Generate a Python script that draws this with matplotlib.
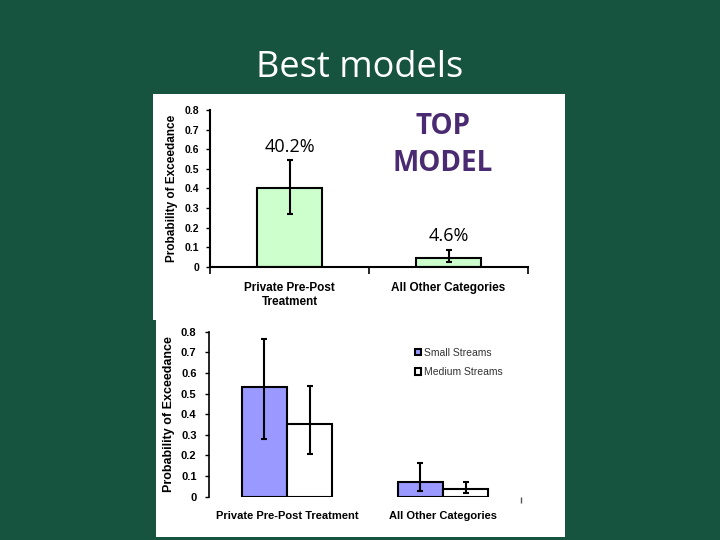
import matplotlib.pyplot as plt
from matplotlib.patches import Rectangle, Patch

# data
categories_top = ['Private Pre-Post\nTreatment', 'All Other Categories']
top_vals = [0.402, 0.046]
top_lo = [0.269, 0.022]
top_hi = [0.545, 0.085]
top_labels = ['40.2%', '4.6%']

categories_bot = ['Private Pre-Post Treatment', 'All Other Categories']
small_vals = [0.534, 0.073]
small_lo = [0.279, 0.029]
small_hi = [0.765, 0.165]
medium_vals = [0.354, 0.039]
medium_lo = [0.207, 0.019]
medium_hi = [0.539, 0.073]

yticks = [0, 0.1, 0.2, 0.3, 0.4, 0.5, 0.6, 0.7, 0.8]
ytick_labels = ['0', '0.1', '0.2', '0.3', '0.4', '0.5', '0.6', '0.7', '0.8']

BG = '#17543f'
W, H = 720, 540

fig = plt.figure(figsize=(7.2, 5.4), dpi=100, facecolor=BG)


def px(x0, y0, x1, y1):
    # pixel box (top-left origin) -> figure fraction rect
    return [x0 / W, 1 - y1 / H, (x1 - x0) / W, (y1 - y0) / H]


# white panels
fig.patches.append(Rectangle((153 / W, 1 - 320 / H), (565 - 153) / W, (320 - 94) / H,
                             transform=fig.transFigure, facecolor='white', edgecolor='none', zorder=-5))
fig.patches.append(Rectangle((156 / W, 1 - 537 / H), (565 - 156) / W, (537 - 320) / H,
                             transform=fig.transFigure, facecolor='white', edgecolor='none', zorder=-5))

fig.text(0.5, 1 - 68 / H, 'Best models', ha='center', va='center', color='white',
         fontsize=26, family='Open Sans')

tick_font = dict(family='Liberation Sans', weight='bold', size=7.5)

# ---------- top chart ----------
ax1 = fig.add_axes(px(210, 110, 528, 266.7))
ax1.set_facecolor('none')
x = [0, 1]
err_top = [[v - l for v, l in zip(top_vals, top_lo)], [h - v for v, h in zip(top_vals, top_hi)]]
ax1.bar(x, top_vals, width=0.415, color='#ccffcc', edgecolor='black', linewidth=1.5, zorder=2)
ax1.errorbar(x, top_vals, yerr=err_top, fmt='none', ecolor='black', elinewidth=1.5,
             capsize=2.5, capthick=1.5, zorder=3)
ax1.set_xlim(-0.5, 1.5)
ax1.set_ylim(0, 0.8)
ax1.set_yticks(yticks)
ax1.set_yticklabels(ytick_labels, fontdict=tick_font)
ax1.set_xticks(x)
ax1.set_xticklabels(categories_top, fontdict=dict(family='Liberation Sans', weight='bold', size=8.5))
ax1.set_xticks([-0.5, 0.5, 1.5], minor=True)
ax1.tick_params(axis='x', which='major', length=0, pad=11)
ax1.tick_params(axis='x', which='minor', length=5, width=1.2, direction='out')
ax1.tick_params(axis='y', length=3, width=1, pad=5)
for s in ['top', 'right']:
    ax1.spines[s].set_visible(False)
for s in ['left', 'bottom']:
    ax1.spines[s].set_linewidth(1.5)
ax1.set_ylabel('Probability of Exceedance', family='Liberation Sans', weight='bold', fontsize=8.5)
ax1.yaxis.set_label_coords(-0.1, 0.5)
ax1.text(0, 0.61, top_labels[0], ha='center', va='center', fontsize=13, family='Open Sans')
ax1.text(1, 0.157, top_labels[1], ha='center', va='center', fontsize=13, family='Open Sans')
ax1.text(0.965, 0.62, 'TOP\nMODEL', ha='center', va='center', fontsize=20, weight='bold',
         family='Open Sans', color='#4a2a70', linespacing=1.35)

# ---------- bottom chart ----------
ax2 = fig.add_axes(px(209, 331.7, 521, 496.7))
ax2.set_facecolor('none')
bw = 0.29
xs = [i - bw / 2 for i in x]
xm = [i + bw / 2 for i in x]
err_s = [[v - l for v, l in zip(small_vals, small_lo)], [h - v for v, h in zip(small_vals, small_hi)]]
err_m = [[v - l for v, l in zip(medium_vals, medium_lo)], [h - v for v, h in zip(medium_vals, medium_hi)]]
ax2.bar(xs, small_vals, width=bw, color='#9999ff', edgecolor='black', linewidth=1.5,
        label='Small Streams', zorder=2)
ax2.bar(xm, medium_vals, width=bw, color='white', edgecolor='black', linewidth=1.5,
        label='Medium Streams', zorder=2)
ax2.errorbar(xs, small_vals, yerr=err_s, fmt='none', ecolor='black', elinewidth=1.5,
             capsize=2.5, capthick=1.5, zorder=3)
ax2.errorbar(xm, medium_vals, yerr=err_m, fmt='none', ecolor='black', elinewidth=1.5,
             capsize=2.5, capthick=1.5, zorder=3)
ax2.set_xlim(-0.5, 1.5)
ax2.set_ylim(0, 0.8)
ax2.set_yticks(yticks)
ax2.set_yticklabels(ytick_labels, fontdict=dict(tick_font, size=8))
ax2.set_xticks(x)
ax2.set_xticklabels(categories_bot, fontdict=dict(family='Liberation Sans', weight='bold', size=8))
ax2.set_xticks([1.5], minor=True)
ax2.tick_params(axis='x', which='major', length=0, pad=10)
ax2.tick_params(axis='x', which='minor', length=4, width=1, direction='out', color='#555555')
ax2.tick_params(axis='y', length=3, width=1, pad=6)
for s in ['top', 'right', 'bottom']:
    ax2.spines[s].set_visible(False)
ax2.spines['left'].set_linewidth(1.2)
ax2.set_ylabel('Probability of Exceedance', family='Liberation Sans', weight='bold', fontsize=9)
ax2.yaxis.set_label_coords(-0.108, 0.5)

handles = [Patch(facecolor='#9999ff', edgecolor='black', linewidth=1.5),
           Patch(facecolor='white', edgecolor='black', linewidth=1.5)]
leg = ax2.legend(handles, ['Small Streams', 'Medium Streams'], loc='upper left',
                 bbox_to_anchor=(0.63, 0.96), frameon=False, handlelength=0.6, handleheight=0.6,
                 handletextpad=0.3, labelspacing=0.9,
                 prop=dict(family='Liberation Sans', size=7.5))
for t in leg.get_texts():
    t.set_color('#333333')

fig.savefig('out.png', dpi=100, facecolor=BG)
